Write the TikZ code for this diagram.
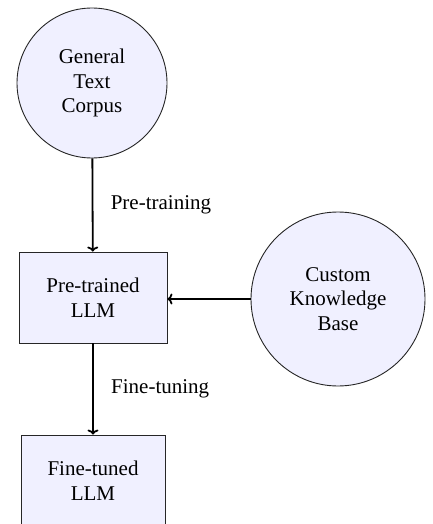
\documentclass[tikz,border=0pt]{standalone}
\usepackage{fontspec}
\setmainfont{Liberation Serif}
\usetikzlibrary{arrows.meta}
\begin{document}
\begin{tikzpicture}[x=1pt,y=-1pt,
  every node/.style={font=\fontsize{21}{24.5}\selectfont},
  circ/.style={circle,draw=black!85,line width=0.9pt,fill=blue!6,minimum size=#1,inner sep=0pt,align=center},
  box/.style={rectangle,draw=black!85,line width=0.9pt,fill=blue!6,minimum width=#1,minimum height=91pt,inner sep=0pt,align=center},
  conn/.style={line width=1.8pt,-{To[length=5pt,width=11pt]}},
  lab/.style={anchor=west}]
\useasboundingbox (0,0) rectangle (432,524);
\node[circ=150pt] (corpus) at (92,83) {General\\Text\\Corpus};
\node[box=148pt] (pre) at (93,297.5) {Pre-trained\\LLM};
\node[circ=174pt] (kb) at (338,299) {Custom\\Knowledge\\Base};
\node[box=144pt] (fine) at (93,480.5) {Fine-tuned\\LLM};
\draw[conn] (corpus) -- (pre) node[midway,lab,xshift=14pt] (l1) {Pre-training};
\draw[conn] (kb) -- (pre.east |- kb.west);
\draw[conn] (pre) -- (fine) node[midway,lab,xshift=14pt] (l2) {Fine-tuning};
\end{tikzpicture}
\end{document}
